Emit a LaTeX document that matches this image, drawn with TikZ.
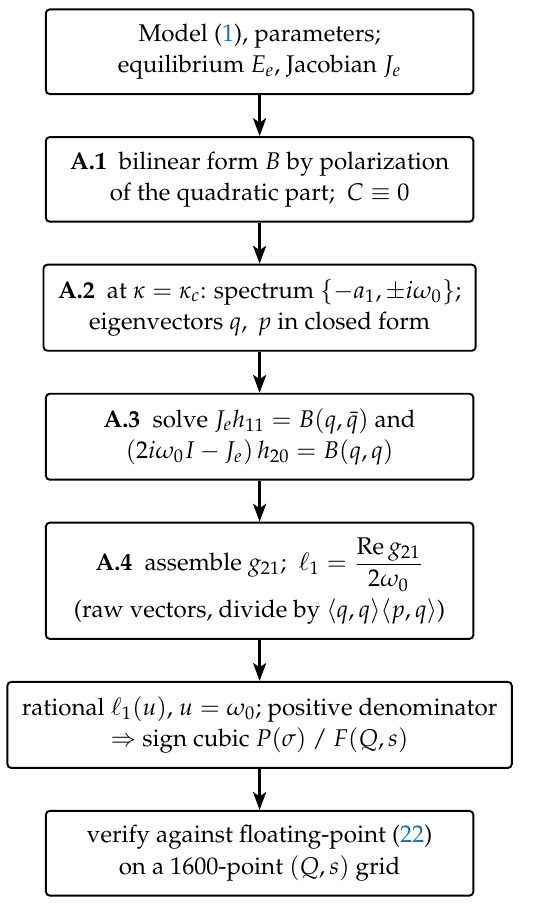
\documentclass[tikz,border=0pt]{standalone}
\usepackage[T1]{fontenc}
\usepackage{mathpazo}
\usepackage{amsmath}
\usepackage{xcolor}
\usepackage{tikz}
\usetikzlibrary{arrows.meta,positioning,calc}
\definecolor{refblue}{RGB}{20,115,190}

\begin{document}
\begin{tikzpicture}[
    stepbox/.style={draw, line width=0.8pt, rounded corners=1.6pt, align=center,
        font=\fontsize{10}{13}\selectfont,
        minimum width=177pt, inner xsep=6pt, inner ysep=6pt},
    flow/.style={-{Stealth[length=7.4pt,width=5.4pt,inset=1.8pt]}, line width=1.2pt},
    node distance=17pt]
    % Boxes
    \node[stepbox] (model) {Model (\textcolor{refblue}{1}), parameters;\\
        equilibrium $E_e$, Jacobian $J_e$};
    \node[stepbox, below=of model] (bilin) {\textbf{A.1}\enspace bilinear form $B$ by polarization\\
        of the quadratic part;\enspace $C\equiv 0$};
    \node[stepbox, below=of bilin] (spec) {\textbf{A.2}\enspace at $\kappa=\kappa_c$: spectrum $\{-a_1,\pm i\omega_0\}$;\\
        eigenvectors $q,\ p$ in closed form};
    \node[stepbox, below=of spec] (solve) {\textbf{A.3}\enspace solve $J_e h_{11}=B(q,\bar q)$ and\\
        $(2i\omega_0 I-J_e)\,h_{20}=B(q,q)$};
    \node[stepbox, below=of solve] (assem) {\textbf{A.4}\enspace assemble $g_{21}$;\enspace
        $\ell_1=\dfrac{\operatorname{Re} g_{21}}{2\omega_0}$\\[2pt]
        (raw vectors, divide by $\langle q,q\rangle\langle p,q\rangle$)};
    \node[stepbox, below=of assem] (ratio) {rational $\ell_1(u)$, $u=\omega_0$; positive denominator\\
        $\Rightarrow$ sign cubic $P(\sigma)$ / $F(Q,s)$};
    \node[stepbox, below=of ratio] (verify) {verify against floating-point (\textcolor{refblue}{22})\\
        on a 1600-point $(Q,s)$ grid};

    % Arrows
    \foreach \a/\b in {model/bilin, bilin/spec, spec/solve, solve/assem, assem/ratio, ratio/verify}
        \draw[flow] (\a) -- (\b);

    \useasboundingbox ($(model.north)+(-107.5pt,3.5pt)$) rectangle ($(verify.south)+(118.9pt,-3.5pt)$);
\end{tikzpicture}
\end{document}
